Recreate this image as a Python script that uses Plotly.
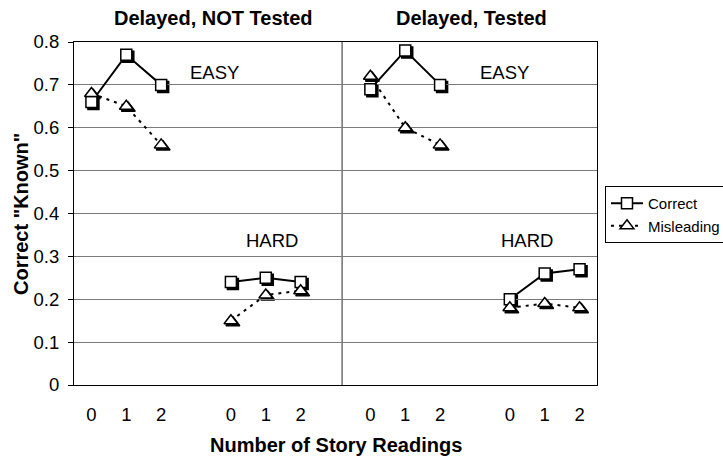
import plotly.graph_objects as go

# ---- data ----
panel_titles = ["Delayed, NOT Tested", "Delayed, Tested"]
difficulty_labels = ["EASY", "HARD"]
reading_labels = ["0", "1", "2"]
series_names = ["Correct", "Misleading"]

correct_nt_easy = [0.66, 0.77, 0.70]
correct_nt_hard = [0.24, 0.25, 0.24]
correct_t_easy = [0.69, 0.78, 0.70]
correct_t_hard = [0.20, 0.26, 0.27]

mislead_nt_easy = [0.68, 0.65, 0.56]
mislead_nt_hard = [0.15, 0.21, 0.22]
mislead_t_easy = [0.72, 0.60, 0.56]
mislead_t_hard = [0.18, 0.19, 0.18]

y_ticks = [0, 0.1, 0.2, 0.3, 0.4, 0.5, 0.6, 0.7, 0.8]
y_tick_text = ["0", "0.1", "0.2", "0.3", "0.4", "0.5", "0.6", "0.7", "0.8"]

correct_groups = [correct_nt_easy, correct_nt_hard, correct_t_easy, correct_t_hard]
mislead_groups = [mislead_nt_easy, mislead_nt_hard, mislead_t_easy, mislead_t_hard]

# category slots: 3 readings + 1 blank per group
def build(groups):
    xs, ys = [], []
    for g, vals in enumerate(groups):
        for i, v in enumerate(vals):
            xs.append(4 * g + i)
            ys.append(v)
        xs.append(None)
        ys.append(None)
    return xs, ys

cx, cy = build(correct_groups)
mx, my = build(mislead_groups)

tickvals = [4 * g + i for g in range(4) for i in range(3)]
ticktext = [reading_labels[i] for g in range(4) for i in range(3)]

FONT = "Liberation Sans, Arial, sans-serif"
fig = go.Figure()

# shadows (subplot x/y, drawn first, offset down-right)
fig.add_trace(go.Scatter(x=cx, y=cy, mode="markers", xaxis="x", yaxis="y",
                         marker=dict(symbol="square", size=11, color="black",
                                     line=dict(color="black", width=1.5)),
                         showlegend=False, hoverinfo="skip"))
fig.add_trace(go.Scatter(x=mx, y=my, mode="markers", xaxis="x", yaxis="y",
                         marker=dict(symbol="triangle-up", size=12, color="black",
                                     line=dict(color="black", width=1.5)),
                         showlegend=False, hoverinfo="skip"))

# main series
fig.add_trace(go.Scatter(x=cx, y=cy, mode="lines+markers", name=series_names[0],
                         xaxis="x2", yaxis="y2", connectgaps=False,
                         line=dict(color="black", width=2),
                         marker=dict(symbol="square", size=11, color="white",
                                     line=dict(color="black", width=1.5))))
fig.add_trace(go.Scatter(x=mx, y=my, mode="lines+markers", name=series_names[1],
                         xaxis="x2", yaxis="y2", connectgaps=False,
                         line=dict(color="black", width=2, dash="3px,5px"),
                         marker=dict(symbol="triangle-up", size=12, color="white",
                                     line=dict(color="black", width=1.5))))

W_PLOT = 525.0
H_PLOT = 345.0
L, T = 74, 42

xrange_ = [-0.5, 14.5]
yrange_ = [0, 0.8]

fig.update_layout(
    width=723, height=458,
    margin=dict(l=L, r=723 - L - int(W_PLOT), t=T, b=458 - T - int(H_PLOT), autoexpand=False),
    paper_bgcolor="white", plot_bgcolor="rgba(0,0,0,0)",
    font=dict(family=FONT, size=18.5, color="black"),
    xaxis=dict(domain=[2 / W_PLOT, 1], range=xrange_, visible=False),
    yaxis=dict(domain=[0, 1 - 2 / H_PLOT], range=yrange_, visible=False),
    xaxis2=dict(domain=[0, 1 - 2 / W_PLOT], range=xrange_, anchor="y2",
                tickmode="array", tickvals=tickvals, ticktext=ticktext,
                ticks="", showgrid=False, zeroline=False,
                showline=True, linecolor="black", linewidth=1, mirror=True,
                ticklabelstandoff=13, tickfont=dict(size=18.5)),
    yaxis2=dict(domain=[2 / H_PLOT, 1], range=yrange_, anchor="x2",
                tickmode="array", tickvals=y_ticks, ticktext=y_tick_text,
                ticks="outside", ticklen=5, tickcolor="black", tickwidth=1,
                showgrid=True, gridcolor="#7a7a7a", gridwidth=1, zeroline=False,
                showline=True, linecolor="black", linewidth=1, mirror=True,
                ticklabelstandoff=5, tickfont=dict(size=18.5)),
    legend=dict(x=(605 - L) / W_PLOT, y=(T + H_PLOT - 186) / H_PLOT,
                xanchor="left", yanchor="top", bgcolor="white",
                bordercolor="black", borderwidth=1, itemwidth=32,
                font=dict(size=15, family=FONT), tracegroupgap=0),
    showlegend=True,
)

# panel divider
fig.add_shape(type="line", xref="x2", yref="y2", x0=7.19, x1=7.19, y0=0, y1=0.8,
              line=dict(color="#707070", width=1.5), layer="below")

def px_to_paper_x(px):
    return (px - L) / W_PLOT

def px_to_paper_y(py):
    return (T + H_PLOT - py) / H_PLOT

ann = []
# panel titles
for title, cxp in zip(panel_titles, [213, 471]):
    ann.append(dict(text="<b>%s</b>" % title, x=px_to_paper_x(cxp), y=px_to_paper_y(18),
                    xref="paper", yref="paper", showarrow=False,
                    xanchor="center", yanchor="middle", font=dict(size=20)))
# difficulty labels (data coords)
for label, xd, yd in [(difficulty_labels[0], 3.54, 0.728), (difficulty_labels[0], 11.86, 0.728),
                      (difficulty_labels[1], 5.17, 0.338), (difficulty_labels[1], 12.5, 0.338)]:
    ann.append(dict(text=label, x=xd, y=yd, xref="x2", yref="y2", showarrow=False,
                    xanchor="center", yanchor="middle", font=dict(size=18.5)))
# axis titles
ann.append(dict(text="<b>Number of Story Readings</b>", x=px_to_paper_x(336), y=px_to_paper_y(445),
                xref="paper", yref="paper", showarrow=False, xanchor="center", yanchor="middle",
                font=dict(size=20)))
ann.append(dict(text="<b>Correct \"Known\"</b>", x=px_to_paper_x(21), y=px_to_paper_y(214),
                xref="paper", yref="paper", showarrow=False, xanchor="center", yanchor="middle",
                textangle=-90, font=dict(size=20)))
fig.update_layout(annotations=ann)

fig.write_html("out.html", config={"displayModeBar": False},
               post_script="document.body.style.margin='0';document.body.style.overflow='hidden';")
